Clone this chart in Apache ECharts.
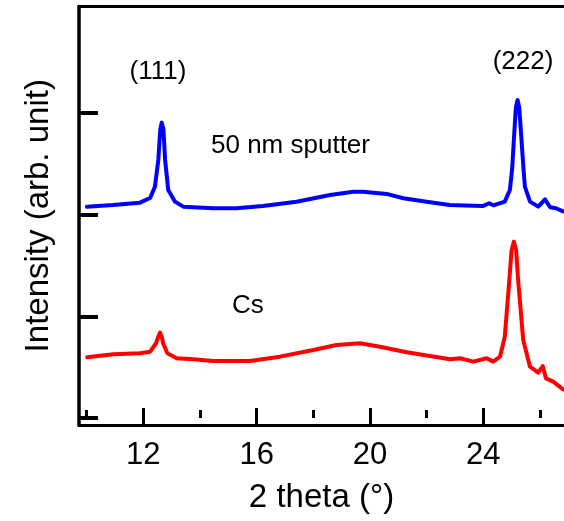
<!DOCTYPE html>
<html>
<head>
<meta charset="utf-8">
<script src="https://cdn.jsdelivr.net/npm/echarts@6/dist/echarts.min.js"></script>
<style>
html,body{margin:0;padding:0;background:#fff;}
#chart{width:564px;height:521px;}
</style>
</head>
<body>
<div id="chart"></div>
<script>
// 50 nm sputter (blue)
var blueX = [10.01,10.93,11.88,12.24,12.41,12.53,12.60,12.65,12.71,12.77,12.88,13.12,13.41,14.47,15.29,16.22,17.41,18.59,19.41,19.76,20.59,21.18,22.12,22.82,23.65,24.00,24.21,24.35,24.76,24.94,25.02,25.08,25.15,25.21,25.27,25.35,25.42,25.47,25.65,25.94,26.18,26.36,26.57,26.82];
var blueY = [2.078,2.094,2.117,2.163,2.274,2.537,2.840,2.904,2.840,2.537,2.242,2.127,2.078,2.062,2.062,2.085,2.127,2.193,2.225,2.225,2.203,2.160,2.121,2.094,2.087,2.085,2.111,2.091,2.127,2.242,2.450,2.734,3.050,3.127,3.050,2.734,2.450,2.274,2.127,2.078,2.150,2.072,2.062,2.031];
// Cs (red)
var redX = [10.02,10.94,11.88,12.24,12.45,12.53,12.59,12.65,12.70,12.85,13.18,13.76,14.47,15.29,15.76,16.82,18.00,18.82,19.65,20.35,21.30,22.12,22.82,23.18,23.65,24.12,24.35,24.59,24.76,24.92,25.00,25.08,25.16,25.23,25.41,25.65,25.94,26.10,26.21,26.47,26.82];
var redY = [0.597,0.626,0.636,0.652,0.735,0.800,0.839,0.800,0.735,0.636,0.587,0.577,0.560,0.560,0.560,0.603,0.669,0.718,0.735,0.701,0.646,0.610,0.577,0.587,0.554,0.587,0.554,0.603,0.799,1.357,1.650,1.734,1.650,1.357,0.767,0.504,0.445,0.511,0.390,0.357,0.282];
var xMajorTicks = [12,16,20,24];
var xMinorTicks = [10,14,18,22,26];
var yTicks = [0,1,2,3];
var seriesNames = ['50 nm sputter','Cs'];
var peakLabels = ['(111)','(222)'];

function pairs(xs, ys){ return xs.map(function(x,i){ return [x, ys[i]]; }); }

var FONT = '"Liberation Sans", Arial, Helvetica, sans-serif';
var chart = echarts.init(document.getElementById('chart'), null, {renderer:'canvas'});
var xMin = 9.73, xMax = 26.85, yMin = -0.069, yMax = 4.046;
chart.setOption({
  animation:false,
  backgroundColor:'#fff',
  grid:{left:79, right:0, top:6.5, bottom:96, containLabel:false},
  xAxis:[
    {type:'value', position:'bottom', min:xMin, max:xMax,
     name:'2 theta (°)', nameLocation:'middle', nameGap:56,
     nameTextStyle:{fontFamily:FONT, fontSize:33, color:'#000'},
     axisLine:{show:true, onZero:false, lineStyle:{color:'#000', width:3}},
     axisTick:{show:true, inside:true, length:17, customValues:xMajorTicks, lineStyle:{color:'#000', width:3}},
     axisLabel:{show:true, customValues:xMajorTicks, margin:15, fontFamily:FONT, fontSize:31, color:'#000'},
     splitLine:{show:false}},
    {type:'value', position:'bottom', min:xMin, max:xMax,
     axisLine:{show:false},
     axisTick:{show:true, inside:true, length:8, customValues:xMinorTicks, lineStyle:{color:'#000', width:3}},
     axisLabel:{show:false}, splitLine:{show:false}},
    {type:'value', position:'top', min:xMin, max:xMax,
     axisLine:{show:true, onZero:false, lineStyle:{color:'#000', width:3}},
     axisTick:{show:false}, axisLabel:{show:false}, splitLine:{show:false}}
  ],
  yAxis:[
    {type:'value', position:'left', min:yMin, max:yMax,
     name:'Intensity (arb. unit)', nameLocation:'middle', nameGap:24,
     nameTextStyle:{fontFamily:FONT, fontSize:33, color:'#000'},
     axisLine:{show:true, onZero:false, lineStyle:{color:'#000', width:3.5}},
     axisTick:{show:true, inside:true, length:19, customValues:yTicks, lineStyle:{color:'#000', width:4}},
     axisLabel:{show:false}, splitLine:{show:false}}
  ],
  series:[
    {name:seriesNames[0], type:'line', xAxisIndex:0, yAxisIndex:0, data:pairs(blueX, blueY), showSymbol:false, symbol:'none',
     lineStyle:{color:'#0000ff', width:4, join:'round', cap:'round'}, itemStyle:{color:'#0000ff'}},
    {name:seriesNames[1], type:'line', xAxisIndex:0, yAxisIndex:0, data:pairs(redX, redY), showSymbol:false, symbol:'none',
     lineStyle:{color:'#ff0000', width:4, join:'round', cap:'round'}, itemStyle:{color:'#ff0000'}}
  ],
  graphic:[
    {type:'text', x:158, y:72, style:{text:peakLabels[0], font:'26px '+FONT, fill:'#000', textAlign:'center', textVerticalAlign:'middle'}},
    {type:'text', x:523, y:62, style:{text:peakLabels[1], font:'26px '+FONT, fill:'#000', textAlign:'center', textVerticalAlign:'middle'}},
    {type:'text', x:211, y:146, style:{text:seriesNames[0], font:'26px '+FONT, fill:'#000', textAlign:'left', textVerticalAlign:'middle'}},
    {type:'text', x:232, y:306, style:{text:seriesNames[1], font:'26px '+FONT, fill:'#000', textAlign:'left', textVerticalAlign:'middle'}}
  ]
});
</script>
</body>
</html>
